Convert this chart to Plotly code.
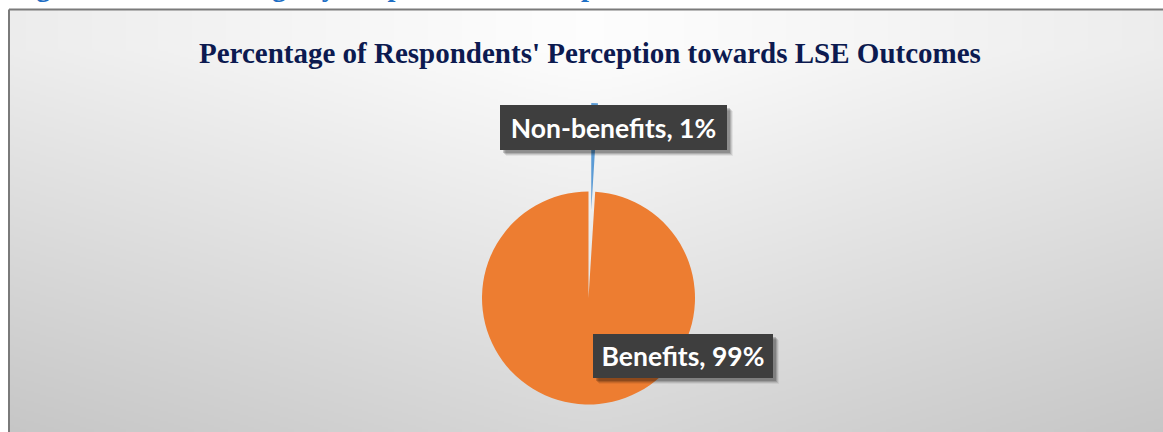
import base64
import math
import struct
import zlib

import numpy as np
import plotly.graph_objects as go

# ---- data -------------------------------------------------------------
labels = ["Non-benefits", "Benefits"]
percentages = [1, 99]
slice_colors = ["#5B9BD5", "#ED7D31"]
chart_title = "Percentage of Respondents' Perception towards LSE Outcomes"
caption = "Figure 4.12: Percentage by Respondents' Perception towards LSE Outcomes"

# ---- page geometry (pixels) ---------------------------------------------
W, H = 1163, 432
BOX_X, BOX_Y = 9, 9.5            # chart frame top-left corner
PIE_CX, PIE_CY, PIE_R = 588.5, 298.0, 106.5
PULL_PX = 88.5                   # how far the small slice is exploded


def px(x):
    return x / W


def py(y):
    return 1 - y / H


# ---- radial-ish grey gradient for the chart area ------------------------
def png_data_uri(rgb):
    h, w, _ = rgb.shape
    raw = b"".join(b"\x00" + rgb[r].tobytes() for r in range(h))

    def chunk(tag, data):
        c = struct.pack(">I", len(data)) + tag + data
        return c + struct.pack(">I", zlib.crc32(tag + data) & 0xFFFFFFFF)

    png = b"\x89PNG\r\n\x1a\n"
    png += chunk(b"IHDR", struct.pack(">IIBBBBB", w, h, 8, 2, 0, 0, 0))
    png += chunk(b"IDAT", zlib.compress(raw, 9))
    png += chunk(b"IEND", b"")
    return "data:image/png;base64," + base64.b64encode(png).decode()


scale = 2
gw, gh = int((W - BOX_X) / scale), int((H - BOX_Y) / scale)
gx = BOX_X + (np.arange(gw) + 0.5) * scale
gy = BOX_Y + (np.arange(gh) + 0.5) * scale
XX, YY = np.meshgrid(gx, gy)
dx = np.sqrt((XX - 590.0) ** 2 + 30.0 ** 2)
dy = np.clip(YY - 50.0, 0, None)
val = 254 - 0.03 * dx - 0.1 * dy
val = np.clip(val, 0, 255).astype(np.uint8)
grad = np.dstack([val, val, val])
bg_uri = png_data_uri(grad)

# ---- pie traces ---------------------------------------------------------
def pie_domain(cx, cy, r):
    return dict(x=[px(cx - r), px(cx + r)], y=[py(cy + r), py(cy - r)])


total = sum(percentages)
# bisector angle of the first (clockwise from 12 o'clock) slice
mid_angle = math.pi * percentages[0] / total
pulled_cx = PIE_CX + PULL_PX * math.sin(mid_angle)
pulled_cy = PIE_CY - PULL_PX * math.cos(mid_angle)

fig = go.Figure()

# main body of the pie, the exploded slice leaves a gap
fig.add_trace(go.Pie(
    labels=labels,
    values=percentages,
    sort=False,
    direction="clockwise",
    rotation=0,
    marker=dict(colors=["rgba(0,0,0,0)", slice_colors[1]], line=dict(width=0)),
    textinfo="none",
    hoverinfo="label+percent",
    showlegend=False,
    domain=pie_domain(PIE_CX, PIE_CY, PIE_R),
))

# exploded small slice
fig.add_trace(go.Pie(
    labels=labels,
    values=percentages,
    sort=False,
    direction="clockwise",
    rotation=0,
    marker=dict(colors=[slice_colors[0], "rgba(0,0,0,0)"], line=dict(width=0)),
    textinfo="none",
    hoverinfo="label+percent",
    showlegend=False,
    domain=pie_domain(pulled_cx, pulled_cy, PIE_R),
))

# ---- data labels (dark callout boxes) -----------------------------------
label_boxes = [
    (500, 105, 227, 45),   # Non-benefits
    (593, 334, 180, 44),   # Benefits
]
annotations = []
shapes = []
for (lab, pct), (bx, by, bw, bh) in zip(zip(labels, percentages), label_boxes):
    text = f"{lab}, {pct}%"
    cx, cy = bx + bw / 2, by + bh / 2
    # soft drop shadow behind the callout
    for off, alpha in ((6, 0.06), (5, 0.10), (4, 0.14), (3, 0.18)):
        shapes.append(dict(
            type="rect", xref="paper", yref="paper", layer="above",
            x0=px(bx + off), x1=px(bx + bw + off),
            y0=py(by + bh + off), y1=py(by + off),
            fillcolor=f"rgba(0,0,0,{alpha})", line=dict(width=0),
        ))
    annotations.append(dict(
        text=text, x=px(cx), y=py(cy), xref="paper", yref="paper",
        xanchor="center", yanchor="middle", showarrow=False,
        width=bw, height=bh, borderpad=0, borderwidth=0,
        bgcolor="#3e3e3e",
        font=dict(family="Lato", size=26.5, weight="bold", color="white"),
    ))

# chart title
annotations.append(dict(
    text=chart_title, x=px(590.5), y=py(53.5), xref="paper", yref="paper",
    xanchor="center", yanchor="middle", showarrow=False,
    font=dict(family="Liberation Serif", size=29, weight="bold", color="#0c1a50"),
))

# figure caption above the chart frame
annotations.append(dict(
    text=caption, x=px(9), y=py(4), xref="paper", yref="paper",
    xanchor="left", yanchor="bottom", showarrow=False,
    font=dict(family="Liberation Serif", size=28.5, weight="bold", color="#1f6fc5"),
))

# ---- frame --------------------------------------------------------------
shapes += [
    dict(type="line", xref="paper", yref="paper",
         x0=px(BOX_X), y0=py(BOX_Y), x1=px(BOX_X), y1=py(H + 5),
         line=dict(color="#7a7a7a", width=2)),
    dict(type="line", xref="paper", yref="paper",
         x0=px(BOX_X), y0=py(BOX_Y), x1=px(W + 5), y1=py(BOX_Y),
         line=dict(color="#7a7a7a", width=2)),
]

fig.update_layout(
    width=W, height=H,
    margin=dict(l=0, r=0, t=0, b=0),
    paper_bgcolor="white",
    plot_bgcolor="white",
    images=[dict(
        source=bg_uri, xref="paper", yref="paper",
        x=px(BOX_X), y=py(BOX_Y), sizex=(W - BOX_X) / W, sizey=(H - BOX_Y) / H,
        xanchor="left", yanchor="top", sizing="stretch", layer="below",
    )],
    annotations=annotations,
    shapes=shapes,
)

fig.write_html("out.html")
